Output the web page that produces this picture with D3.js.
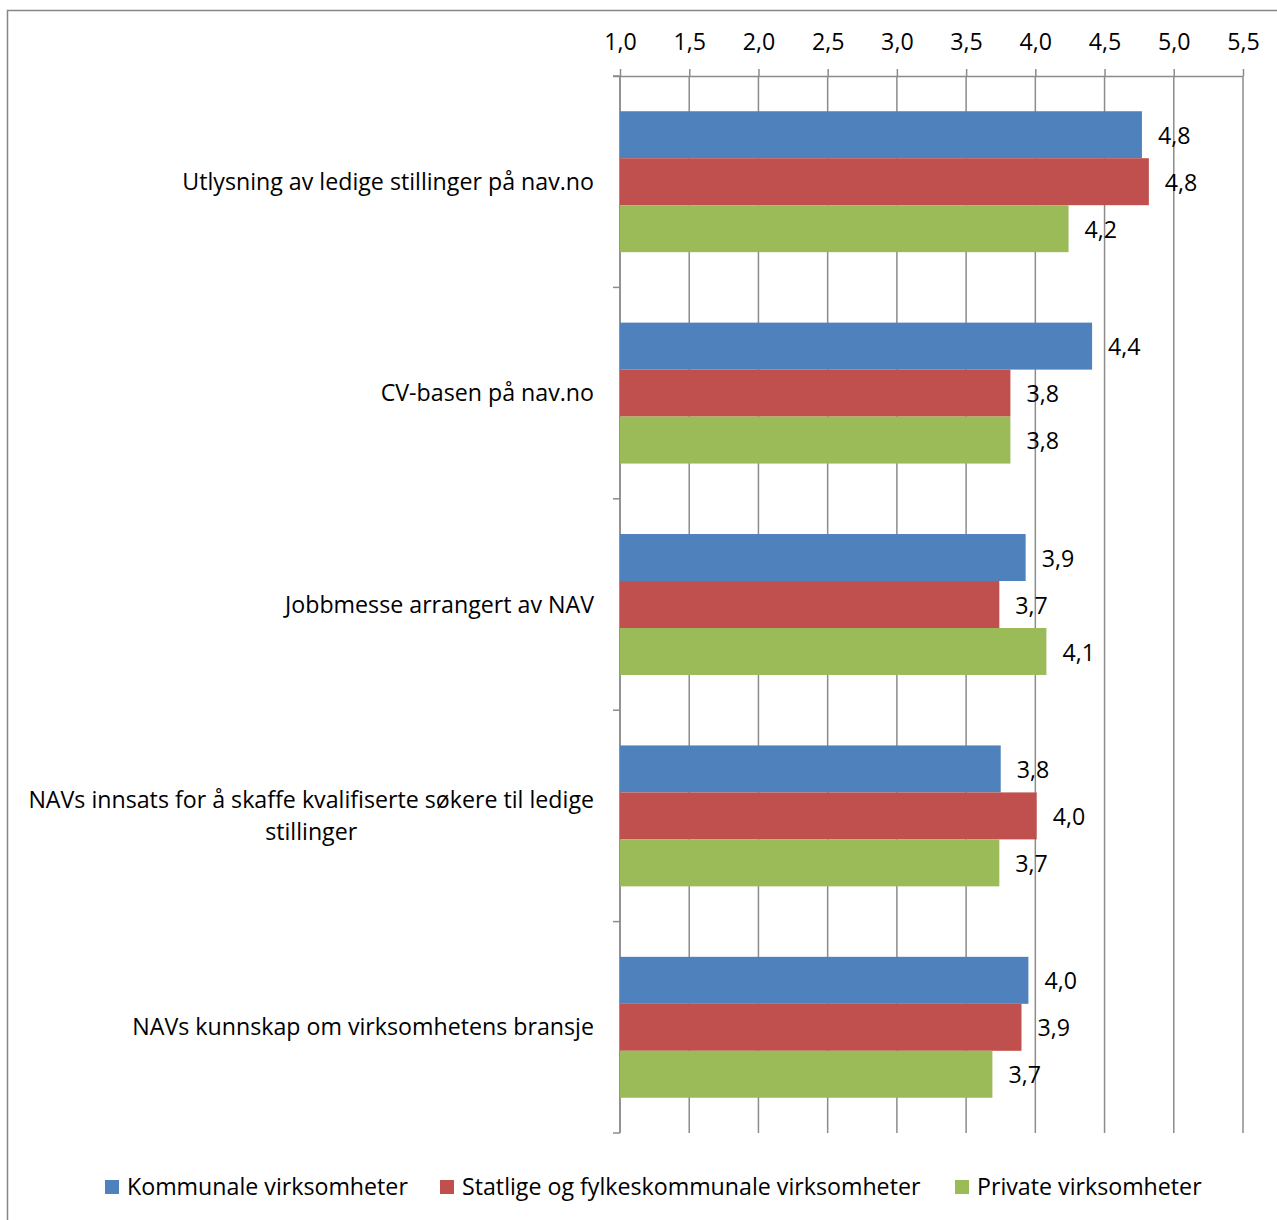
<!DOCTYPE html>
<html><head><meta charset="utf-8">
<script src="https://cdn.jsdelivr.net/npm/d3@7"></script>
<style>body{margin:0;background:#fff}svg{display:block}text{font-family:"Open Sans",sans-serif;fill:#000}</style>
</head><body>
<svg id="c" width="1277" height="1220"></svg>
<script>
const categories = [
  ["Utlysning av ledige stillinger på nav.no"],
  ["CV-basen på nav.no"],
  ["Jobbmesse arrangert av NAV"],
  ["NAVs innsats for å skaffe kvalifiserte søkere til ledige", "stillinger"],
  ["NAVs kunnskap om virksomhetens bransje"]
];
const seriesNames = ["Kommunale virksomheter", "Statlige og fylkeskommunale virksomheter", "Private virksomheter"];
const kommunale = [4.77, 4.41, 3.93, 3.75, 3.95];
const statlige  = [4.82, 3.82, 3.74, 4.01, 3.90];
const privat    = [4.24, 3.82, 4.08, 3.74, 3.69];
const tickValues = [1.0, 1.5, 2.0, 2.5, 3.0, 3.5, 4.0, 4.5, 5.0, 5.5];
const colors = ["#4F81BD", "#C0504D", "#9BBB59"];

(function () {
const series = [kommunale, statlige, privat];
const fmt = v => d3.format(".1f")(v).replace(".", ",");
const FS = "23.2px";

const svg = d3.select("#c");
svg.append("rect").attr("x", 7.5).attr("y", 10.5).attr("width", 1300).attr("height", 1300)
  .attr("fill", "none").attr("stroke", "#868686").attr("stroke-width", 1.5);

const mLeft = 620, mRight = 1243, mTop = 76, mBottom = 1133;
const x = d3.scaleLinear().domain([1, 5.5]).range([mLeft, mRight]);
const y = d3.scaleBand().domain(d3.range(categories.length)).range([mTop, mBottom]).paddingInner(0).paddingOuter(0);
const inner = d3.scaleBand().domain(d3.range(3)).range([0, y.bandwidth()]).paddingOuter(0.75).paddingInner(0);

// gridlines
svg.append("g").selectAll("line").data(tickValues).join("line")
  .attr("x1", d => x(d)).attr("x2", d => x(d)).attr("y1", mTop).attr("y2", mBottom)
  .attr("stroke", "#8c8c8c").attr("stroke-width", 1.5);

// top axis
const ax = svg.append("g").attr("transform", `translate(0,${mTop})`)
  .call(d3.axisTop(x).tickValues(tickValues).tickFormat(fmt).tickSize(7).tickPadding(19).tickSizeOuter(0));
ax.select(".domain").attr("d", `M${mLeft-7},0.5H${mRight}`).attr("stroke", "#8c8c8c").attr("stroke-width", 1.5);
ax.selectAll(".tick line").attr("stroke", "#8c8c8c").attr("stroke-width", 1.5);
ax.selectAll(".tick text").style("font-family", '"Open Sans",sans-serif').style("font-size", FS).attr("fill", "#000");

// left axis line with ticks at boundaries
const lg = svg.append("g");
lg.append("line").attr("x1", mLeft).attr("x2", mLeft).attr("y1", mTop).attr("y2", mBottom).attr("stroke", "#8c8c8c").attr("stroke-width", 1.5);
lg.selectAll("line.t").data(d3.range(categories.length + 1)).join("line").attr("class", "t")
  .attr("x1", mLeft - 7).attr("x2", mLeft).attr("y1", d => mTop + d * y.bandwidth()).attr("y2", d => mTop + d * y.bandwidth())
  .attr("stroke", "#8c8c8c").attr("stroke-width", 1.5);

// bars
series.forEach((vals, si) => {
  const g = svg.append("g");
  g.selectAll("rect").data(vals).join("rect")
    .attr("x", x(1)).attr("y", (d, i) => y(i) + inner(si))
    .attr("width", d => x(d) - x(1)).attr("height", inner.bandwidth())
    .attr("fill", colors[si]);
  g.selectAll("text").data(vals).join("text")
    .attr("x", d => x(d) + 16).attr("y", (d, i) => y(i) + inner(si) + inner.bandwidth() / 2 + 1)
    .attr("dy", "0.35em").style("font-size", FS).text(d => fmt(d));
});

// category labels
categories.forEach((lines, i) => {
  const cy = y(i) + y.bandwidth() / 2;
  const lh = 32;
  const g = svg.append("g");
  const texts = lines.map((t, j) => g.append("text")
    .attr("y", cy + (j - (lines.length - 1) / 2) * lh).attr("dy", "0.35em")
    .style("font-size", FS).text(t));
  const widths = texts.map(t => t.node().getComputedTextLength());
  const w = Math.max(...widths);
  const cx = 594 - w / 2;
  texts.forEach(t => t.attr("x", cx).attr("text-anchor", "middle"));
});

// legend
const legX = [105, 440, 955];
seriesNames.forEach((n, i) => {
  svg.append("rect").attr("x", legX[i]).attr("y", 1180).attr("width", 14).attr("height", 14).attr("fill", colors[i]);
  svg.append("text").attr("x", legX[i] + 22).attr("y", 1187).attr("dy", "0.35em").style("font-size", FS).text(n);
});
})();
</script>
</body></html>
